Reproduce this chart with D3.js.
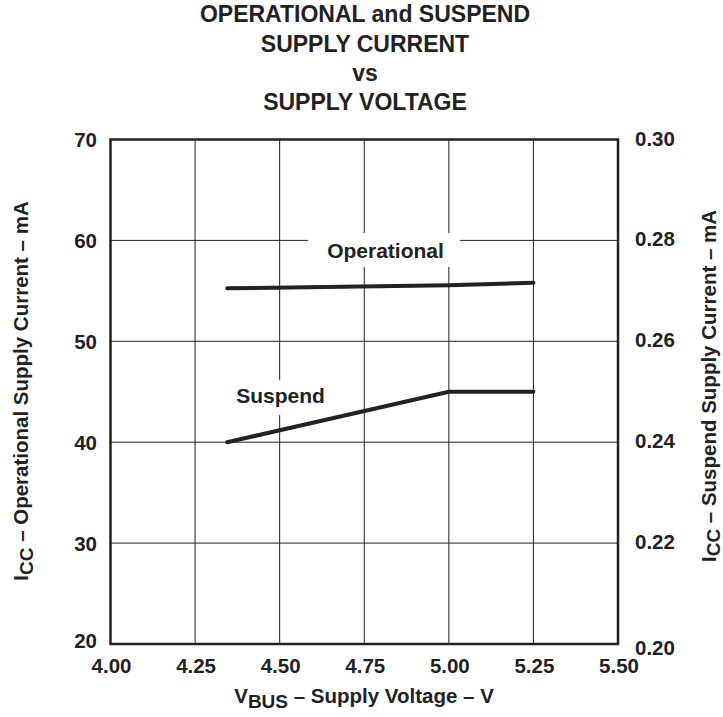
<!DOCTYPE html>
<html><head><meta charset="utf-8">
<script src="https://cdn.jsdelivr.net/npm/d3@7"></script>
<style>body{margin:0;background:#fff}svg{display:block}text{font-family:"Liberation Sans",Arial,sans-serif;font-weight:bold;fill:#222}</style>
</head><body><svg id="c" width="723" height="717"></svg>
<script>
const titleLines = ["OPERATIONAL and SUSPEND","SUPPLY CURRENT","vs","SUPPLY VOLTAGE"];
const xTicks = [4.00,4.25,4.50,4.75,5.00,5.25,5.50];
const yLeftTicks = [20,30,40,50,60,70];
const yRightTicks = [0.20,0.22,0.24,0.26,0.28,0.30];
const voltage = [4.345,5.00,5.25];
const operational = [55.25,55.55,55.8];   // mA, left axis
const suspend = [0.240,0.250,0.250];      // mA, right axis

const svg = d3.select("#c");
const L=110.5, R=618, T=139.5, B=644;
const x = d3.scaleLinear().domain([4.0,5.5]).range([L,R]);
const yL = d3.scaleLinear().domain([20,70]).range([B,T]);
const yR = d3.scaleLinear().domain([0.20,0.30]).range([B,T]);
const col="#222";

// title
svg.selectAll("text.title").data(titleLines).join("text").attr("class","title")
  .attr("x",365).attr("y",(d,i)=>[22,52,81,110][i]).attr("text-anchor","middle")
  .attr("font-size",23).text(d=>d);

// grid
const g=svg.append("g");
g.selectAll("line.v").data(xTicks.slice(1,-1)).join("line")
  .attr("x1",d=>x(d)).attr("x2",d=>x(d)).attr("y1",T).attr("y2",B)
  .attr("stroke",col).attr("stroke-width",1);
g.selectAll("line.h").data(yLeftTicks.slice(1,-1)).join("line")
  .attr("x1",L).attr("x2",R).attr("y1",d=>yL(d)).attr("y2",d=>yL(d))
  .attr("stroke",col).attr("stroke-width",1);

// label knockouts
svg.append("rect").attr("x",308).attr("y",233).attr("width",152).attr("height",34).attr("fill","#fff");
svg.append("rect").attr("x",232).attr("y",380).attr("width",98).attr("height",35).attr("fill","#fff");

// frame
svg.append("rect").attr("x",L).attr("y",T).attr("width",R-L).attr("height",B-T)
  .attr("fill","none").attr("stroke",col).attr("stroke-width",2.5);

// lines
const lineOp=d3.line().x((d,i)=>x(voltage[i])).y(d=>yL(d));
const lineSu=d3.line().x((d,i)=>x(voltage[i])).y(d=>yR(d));
svg.append("path").attr("d",lineOp(operational)).attr("fill","none").attr("stroke",col).attr("stroke-width",4).attr("stroke-linecap","round");
svg.append("path").attr("d",lineSu(suspend)).attr("fill","none").attr("stroke",col).attr("stroke-width",4).attr("stroke-linecap","round");

svg.append("text").attr("x",385.5).attr("y",258).attr("text-anchor","middle").attr("font-size",21).text("Operational");
svg.append("text").attr("x",280.5).attr("y",403).attr("text-anchor","middle").attr("font-size",21).text("Suspend");

// tick labels
svg.selectAll("text.xt").data(xTicks).join("text").attr("class","xt")
  .attr("x",d=>x(d)+1).attr("y",673).attr("text-anchor","middle").attr("font-size",20.5)
  .text(d=>d3.format(".2f")(d));
svg.selectAll("text.yl").data(yLeftTicks).join("text").attr("class","yl")
  .attr("x",97).attr("y",d=>yL(d)+7.5 + (d===20?-4:0)).attr("text-anchor","end").attr("font-size",20.5)
  .text(d=>d);
svg.selectAll("text.yr").data(yRightTicks).join("text").attr("class","yr")
  .attr("x",635).attr("y",d=>yR(d)+6 + (d===0.20?5:0)).attr("text-anchor","start").attr("font-size",20.5)
  .text(d=>d3.format(".2f")(d));

// axis titles
const xl=svg.append("text").attr("x",364).attr("y",703).attr("text-anchor","middle").attr("font-size",20.5);
xl.append("tspan").text("V");
xl.append("tspan").attr("dy",5).attr("font-size",19).text("BUS");
xl.append("tspan").attr("dy",-5).text(" – Supply Voltage – V");

const yl=svg.append("text").attr("transform","translate(28,391) rotate(-90)").attr("text-anchor","middle").attr("font-size",20.5);
yl.append("tspan").text("I");
yl.append("tspan").attr("dy",5).attr("font-size",19).text("CC");
yl.append("tspan").attr("dy",-5).text(" – Operational Supply Current – mA");

const yr=svg.append("text").attr("transform","translate(716,386) rotate(-90)").attr("text-anchor","middle").attr("font-size",20.5);
yr.append("tspan").text("I");
yr.append("tspan").attr("dy",4).attr("font-size",19).text("CC");
yr.append("tspan").attr("dy",-4).text(" – Suspend Supply Current – mA");
</script></body></html>
